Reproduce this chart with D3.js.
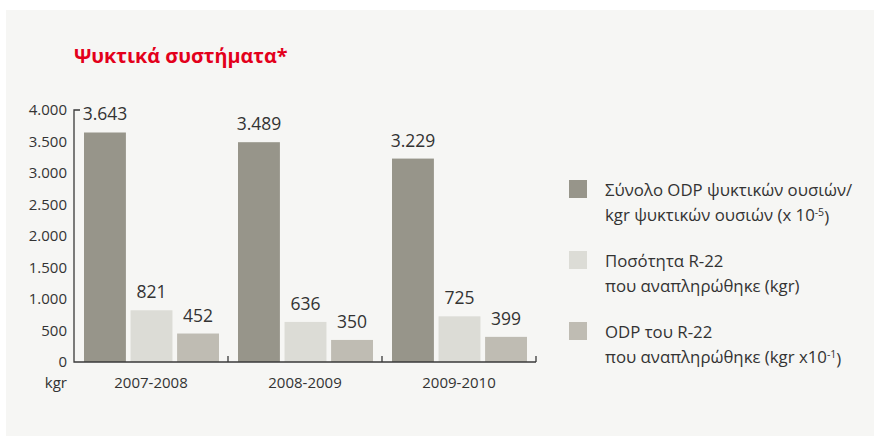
<!DOCTYPE html>
<html>
<head>
<meta charset="utf-8">
<script src="https://cdn.jsdelivr.net/npm/d3@7"></script>
<style>
  body { margin: 0; background: #fff; }
  text { font-family: "Open Sans", "Noto Sans", sans-serif; fill: #333; }
</style>
</head>
<body>
<svg id="chart" width="874" height="436"></svg>
<script>
"use strict";

const periods = ["2007-2008", "2008-2009", "2009-2010"];
const seriesKeys = ["odpTotal", "r22Qty", "r22Odp"];
const odpTotal = [3643, 3489, 3229];
const r22Qty = [821, 636, 725];
const r22Odp = [452, 350, 399];
const yTicks = [0, 500, 1000, 1500, 2000, 2500, 3000, 3500, 4000];
const seriesColors = ["#97958a", "#dcdcd6", "#bfbcb3"];

const legendItems = [
  [["Σύνολο ODP ψυκτικών ουσιών/"], ["kgr ψυκτικών ουσιών (x 10", "-5", ")"]],
  [["Ποσότητα R-22"], ["που αναπληρώθηκε (kgr)"]],
  [["ODP του R-22"], ["που αναπληρώθηκε (kgr x10", "-1", ")"]]
];

const svg = d3.select("#chart");
const values = [odpTotal, r22Qty, r22Odp];

svg.append("rect")
  .attr("x", 6).attr("y", 10)
  .attr("width", 868).attr("height", 426)
  .attr("fill", "#f6f6f4");

svg.append("text")
  .attr("x", 74).attr("y", 63)
  .style("fill", "#e3001b")
  .style("font-weight", "bold")
  .style("font-size", "19.8px")
  .text("Ψυκτικά συστήματα*");

const plotLeft = 74, plotRight = 536, plotTop = 110, plotBottom = 362;

const x0 = d3.scaleBand().domain(periods).range([plotLeft, plotRight]);
const x1 = d3.scaleBand().domain(seriesKeys).range([10, 145]).paddingInner(0.1);
const y = d3.scaleLinear().domain([0, 4000]).range([plotBottom, plotTop]);

// y tick labels
svg.append("g").selectAll("text")
  .data(yTicks)
  .enter()
  .append("text")
  .attr("x", 67)
  .attr("y", (d) => y(d))
  .attr("dy", "0.35em")
  .attr("text-anchor", "end")
  .style("font-size", "15px")
  .text((d) => d3.format(",")(d).replace(",", "."));

// bars + value labels
const groups = svg.append("g").selectAll("g")
  .data(periods)
  .enter()
  .append("g")
  .attr("transform", (d) => "translate(" + x0(d) + ",0)");

groups.selectAll("rect")
  .data((d, i) => seriesKeys.map((k, j) => ({ key: k, value: values[j][i], color: seriesColors[j] })))
  .enter()
  .append("rect")
  .attr("x", (d) => x1(d.key))
  .attr("width", x1.bandwidth())
  .attr("y", (d) => y(d.value))
  .attr("height", (d) => plotBottom - y(d.value))
  .attr("fill", (d) => d.color);

groups.selectAll("text.val")
  .data((d, i) => seriesKeys.map((k, j) => ({ key: k, value: values[j][i] })))
  .enter()
  .append("text")
  .attr("class", "val")
  .attr("x", (d) => x1(d.key) + x1.bandwidth() / 2)
  .attr("y", (d) => y(d.value) - 12)
  .attr("text-anchor", "middle")
  .style("font-size", "17.5px")
  .text((d) => d3.format(",")(d.value).replace(",", "."));

// axes lines
const axisColor = "#3a3a3a";
svg.append("path")
  .attr("d", "M" + (plotLeft + 6) + "," + plotTop + "H" + plotLeft + "V" + plotBottom + "H" + plotRight)
  .attr("fill", "none")
  .attr("stroke", axisColor)
  .attr("stroke-width", 1.3);

svg.append("g").selectAll("line")
  .data(periods)
  .enter()
  .append("line")
  .attr("x1", (d) => x0(d) + x0.bandwidth())
  .attr("x2", (d) => x0(d) + x0.bandwidth())
  .attr("y1", plotBottom - 6)
  .attr("y2", plotBottom)
  .attr("stroke", axisColor)
  .attr("stroke-width", 1.3);

// category labels
svg.append("g").selectAll("text")
  .data(periods)
  .enter()
  .append("text")
  .attr("x", (d) => x0(d) + x0.bandwidth() / 2)
  .attr("y", 388)
  .attr("text-anchor", "middle")
  .style("font-size", "15px")
  .text((d) => d);

svg.append("text")
  .attr("x", 67).attr("y", 388)
  .attr("text-anchor", "end")
  .style("font-size", "15px")
  .text("kgr");

// legend
const legend = svg.append("g").attr("transform", "translate(569,180)");
legendItems.forEach((item, i) => {
  const g = legend.append("g").attr("transform", "translate(0," + i * 71 + ")");
  g.append("rect")
    .attr("width", 18).attr("height", 18)
    .attr("fill", seriesColors[i]);
  item.forEach((line, li) => {
    const t = g.append("text")
      .attr("x", 36)
      .attr("y", 16 + li * 24.5)
      .style("font-size", "16.8px");
    t.append("tspan").text(line[0]);
    if (line.length > 1) {
      t.append("tspan")
        .attr("dy", "-0.45em")
        .style("font-size", "10.5px")
        .text(line[1]);
      t.append("tspan")
        .attr("dy", "0.45em")
        .text(line[2]);
    }
  });
});
</script>
</body>
</html>
